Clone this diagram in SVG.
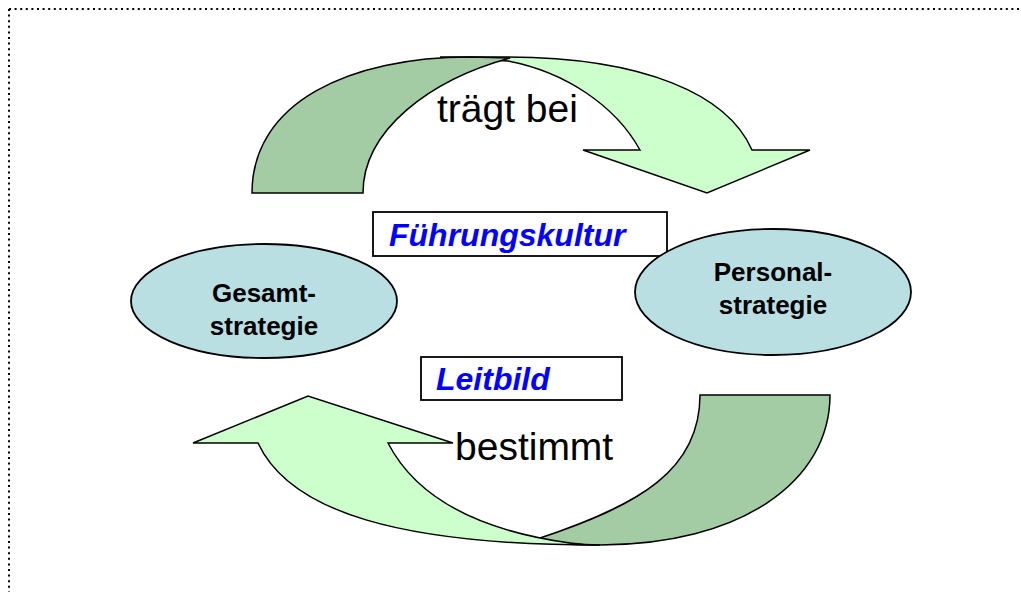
<svg xmlns="http://www.w3.org/2000/svg" width="1021" height="592" viewBox="0 0 1021 592">
  <style>
    .frame { fill: none; stroke: #000; stroke-width: 2; stroke-dasharray: 2 3.6; }
    .outline { stroke: #000; stroke-width: 1.5; stroke-linejoin: miter; }
    .light { fill: #ccffcc; }
    .dark { fill: #a3cca5; }
    .oval { fill: #b9dfe3; stroke: #000; stroke-width: 1.8; }
    .box { fill: #fff; stroke: #000; stroke-width: 1.8; }
    .node-text { font-family: "Liberation Sans", Arial, sans-serif; font-weight: bold; font-size: 26px; fill: #000; text-anchor: middle; }
    .tag-text { font-family: "Liberation Sans", Arial, sans-serif; font-weight: bold; font-style: italic; font-size: 32px; fill: #0000ff; }
    .verb { font-family: "Liberation Sans", Arial, sans-serif; font-size: 39px; fill: #000; }
  </style>

  <!-- dotted page frame -->
  <g id="frame">
    <line class="frame" x1="9" y1="9" x2="1021" y2="9"/>
    <line class="frame" x1="9" y1="9" x2="9" y2="592"/>
  </g>

  <g id="connectors">
    <!-- upper curved arrow: Gesamtstrategie contributes to Personalstrategie -->
    <g id="arrow-top">
      <path class="light outline" d="M 440,57 L 505,57 C 645,57 728,95 752,150 L 810,150 L 707,193 L 583,150 L 640,150 C 615,105 565,72 508,61 Z"/>
      <path class="dark outline" d="M 252,193 C 252,102 350,57 470,57 L 510,58 C 430,80 363,130 363,193 Z"/>
    </g>
    <!-- lower curved arrow: Personalstrategie is determined back -->
    <g id="arrow-bottom">
      <path class="dark outline" d="M 700,395 L 830,395 C 830,482 740,545 600,545 C 570,545 550,543 537,539 C 640,505 700,470 700,395 Z"/>
      <path class="light outline" d="M 193,443 L 308,396 L 453,443 L 388,443 C 420,505 490,532 570,543 C 585,545 595,545 600,545 C 400,545 290,512 258,443 Z"/>
    </g>
  </g>

  <text class="verb" x="437" y="122">trägt bei</text>
  <text class="verb" x="455" y="460">bestimmt</text>

  <g id="fuehrungskultur">
    <rect class="box" x="373" y="212" width="294" height="44"/>
    <text class="tag-text" x="389" y="246">Führungskultur</text>
  </g>

  <g id="leitbild">
    <rect class="box" x="421" y="357" width="201" height="43"/>
    <text class="tag-text" x="436" y="390">Leitbild</text>
  </g>

  <g id="gesamtstrategie">
    <ellipse class="oval" cx="264" cy="301" rx="133" ry="57"/>
    <text class="node-text" x="264" y="302">Gesamt-</text>
    <text class="node-text" x="264" y="335">strategie</text>
  </g>

  <g id="personalstrategie">
    <ellipse class="oval" cx="773" cy="292" rx="138" ry="63"/>
    <text class="node-text" x="773" y="281">Personal-</text>
    <text class="node-text" x="773" y="314">strategie</text>
  </g>
</svg>
